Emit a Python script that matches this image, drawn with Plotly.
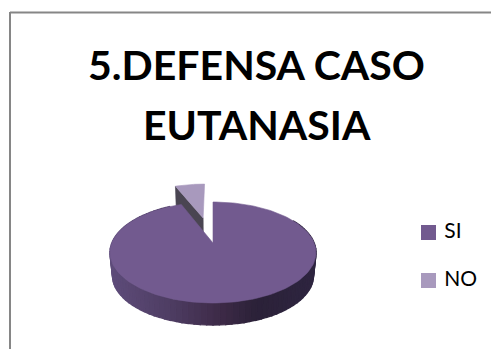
import math
import plotly.graph_objects as go

# Survey shares
categories = ["SI", "NO"]
shares = [94, 6]
title_lines = ["5.DEFENSA CASO", "EUTANASIA"]

WIDTH, HEIGHT = 491, 349
COL_TOP = ["#725A8F", "#A899BD"]
NO_WALL = "#4A4552"
FRAME = "#868686"
FONT = "Lato"

# Perspective projection of the tilted disc onto the page
AX, AY = 213.0, 243.0
RX, K, P = 101.2, 48.7, 0.188
DEPTH_SHIFT, DEPTH_SCALE = 23.5, 0.975
EXPLODE = 0.576

# Key swatch centres and the row each label sits on
KEY_X = 428.5
KEY_Y = [232.5, 280.5]


def project(u, v, lower=False):
    s = 1 + P * v
    x, y = RX * u / s, -K * v / s
    if lower:
        return AX + DEPTH_SCALE * x, AY + DEPTH_SHIFT + DEPTH_SCALE * y
    return AX + x, AY + y


def polar(deg, ou=0.0, ov=0.0):
    a = math.radians(deg)
    return ou + math.sin(a), ov + math.cos(a)


def mix(t):
    stops = [(0.0, (94, 76, 122)), (0.3, (78, 61, 99)), (0.55, (61, 42, 71)),
             (0.72, (43, 33, 56)), (1.0, (46, 37, 64))]
    t = max(0.0, min(1.0, t))
    for (t0, c0), (t1, c1) in zip(stops, stops[1:]):
        if t <= t1:
            f = (t - t0) / (t1 - t0)
            return "rgb(%d,%d,%d)" % tuple(round(a + (b - a) * f) for a, b in zip(c0, c1))
    return "rgb(46,37,64)"


def polygon(points, color, width=0.6):
    return go.Scatter(
        x=[p[0] for p in points] + [points[0][0]],
        y=[p[1] for p in points] + [points[0][1]],
        mode="lines", fill="toself", fillcolor=color,
        line=dict(color=color, width=width),
        hoverinfo="skip", showlegend=False,
    )


total = sum(shares)
si_end = 360 * shares[0] / total
no_span = 360 * shares[1] / total
mid = math.radians(-no_span / 2)
ou, ov = EXPLODE * math.sin(mid), EXPLODE * math.cos(mid)

fig = go.Figure()

# Detached slice: inner wall first, then its top face
no_start = polar(si_end, ou, ov)
fig.add_trace(polygon([project(ou, ov), project(*no_start), project(*no_start, lower=True),
                       project(ou, ov, lower=True)], NO_WALL))
no_face = [project(ou, ov)] + [project(*polar(si_end + no_span * i / 24, ou, ov)) for i in range(25)]
fig.add_trace(polygon(no_face, COL_TOP[1]))

# Rim of the main slice, painted as narrow bands for the shading
STEP = 3
for a in range(60, 330, STEP):
    u0, v0 = polar(a)
    u1, v1 = polar(a + STEP)
    quad = [project(u0, v0), project(u1, v1), project(u1, v1, lower=True), project(u0, v0, lower=True)]
    fig.add_trace(polygon(quad, mix((quad[0][0] - 110) / 207), width=1.4))

# Top face of the main slice
si_face = [project(0, 0)] + [project(*polar(si_end * i / 180)) for i in range(181)]
fig.add_trace(polygon(si_face, COL_TOP[0]))

# Key: one swatch and label per category
for i, name in enumerate(categories):
    fig.add_trace(go.Scatter(
        x=[KEY_X], y=[KEY_Y[i]], mode="markers+text", name=name, text=[" " + name],
        textposition="middle right", hoverinfo="skip", showlegend=False,
        textfont=dict(family=FONT, size=21, color="black"),
        marker=dict(symbol="square", size=15, color=COL_TOP[i], line=dict(width=0)),
        cliponaxis=False,
    ))

fig.update_layout(
    width=WIDTH, height=HEIGHT, autosize=False,
    margin=dict(l=0, r=0, t=0, b=0),
    paper_bgcolor="white", plot_bgcolor="white",
    showlegend=False,
    xaxis=dict(range=[0, WIDTH], visible=False, fixedrange=True),
    yaxis=dict(range=[HEIGHT, 0], visible=False, fixedrange=True),
    title=dict(text=title_lines[0], x=256.5 / WIDTH, xanchor="center", y=1 - 66 / HEIGHT, yanchor="middle",
               font=dict(family=FONT, size=41, color="black", weight="bold")),
    annotations=[dict(text=title_lines[1], x=256.5, y=124.5, xref="x", yref="y", showarrow=False,
                      font=dict(family=FONT, size=41, color="black", weight="bold"))],
    shapes=[
        dict(type="line", x0=10, x1=WIDTH, y0=12.5, y1=12.5, line=dict(color=FRAME, width=2)),
        dict(type="line", x0=10, x1=10, y0=12, y1=HEIGHT, line=dict(color=FRAME, width=2)),
    ],
)

fig.write_html("out.html", config={"displayModeBar": False})
